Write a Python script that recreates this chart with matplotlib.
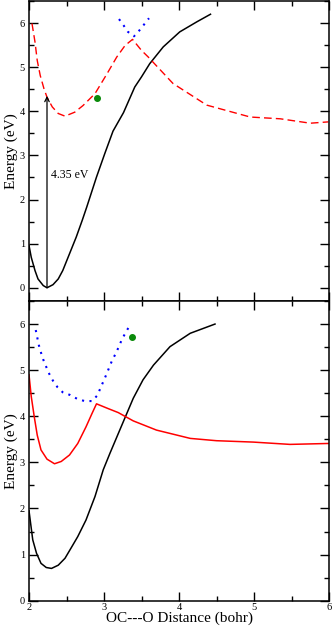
import numpy as np
import matplotlib
matplotlib.use("Agg")
import matplotlib.pyplot as plt
from matplotlib.ticker import MultipleLocator

plt.rcParams["font.family"] = ["Liberation Serif", "DejaVu Serif"]

# ============================================================
# Data
# ============================================================
# top panel
top_ground_x = [2.00, 2.03, 2.08, 2.12, 2.19, 2.24, 2.32, 2.39, 2.45, 2.54, 2.63, 2.71, 2.77,
                2.90, 3.01, 3.12, 3.26, 3.41, 3.50, 3.61, 3.79, 4.01, 4.24, 4.42]
top_ground_y = [0.96, 0.69, 0.39, 0.20, 0.05, 0.00, 0.07, 0.20, 0.39, 0.77, 1.15, 1.53, 1.83,
                2.51, 3.04, 3.55, 3.97, 4.55, 4.78, 5.08, 5.46, 5.80, 6.03, 6.20]

top_excited_x = [2.04, 2.08, 2.11, 2.15, 2.20, 2.24, 2.31, 2.39, 2.48, 2.61, 2.72, 2.88, 3.04,
                 3.17, 3.28, 3.38, 3.50, 3.59, 3.92, 4.37, 4.95, 5.35, 5.75, 5.99]
top_excited_y = [5.99, 5.57, 5.15, 4.81, 4.51, 4.32, 4.10, 3.95, 3.89, 3.98, 4.13, 4.40, 4.85,
                 5.23, 5.49, 5.63, 5.38, 5.23, 4.63, 4.14, 3.87, 3.83, 3.73, 3.76]

top_dot_x = [3.20, 3.26, 3.32, 3.40, 3.47, 3.54, 3.60]
top_dot_y = [6.09, 5.95, 5.80, 5.70, 5.83, 5.98, 6.11]

top_point = (2.91, 4.31)
vert_x = 2.24
vert_e = 4.35

# bottom panel
bot_ground_x = [2.00, 2.05, 2.10, 2.16, 2.23, 2.30, 2.39, 2.48, 2.56, 2.65, 2.76, 2.88, 2.99,
                3.08, 3.21, 3.39, 3.52, 3.66, 3.88, 4.15, 4.48]
bot_ground_y = [1.95, 1.32, 1.03, 0.81, 0.72, 0.70, 0.77, 0.92, 1.14, 1.39, 1.75, 2.26, 2.84,
                3.20, 3.70, 4.39, 4.79, 5.11, 5.51, 5.80, 6.00]

bot_excited_x = [2.00, 2.03, 2.07, 2.11, 2.16, 2.24, 2.34, 2.43, 2.54, 2.65, 2.76, 2.84, 2.90,
                 3.05, 3.19, 3.39, 3.70, 4.15, 4.50, 4.99, 5.48, 5.99]
bot_excited_y = [4.90, 4.43, 3.99, 3.59, 3.27, 3.07, 2.97, 3.02, 3.16, 3.41, 3.77, 4.06, 4.27,
                 4.17, 4.08, 3.90, 3.70, 3.52, 3.47, 3.44, 3.39, 3.41]

bot_dot_x = [2.09, 2.11, 2.13, 2.16, 2.19, 2.23, 2.27, 2.32, 2.38, 2.45, 2.55, 2.64, 2.74, 2.84,
             2.91, 2.95, 2.99, 3.03, 3.07, 3.11, 3.16, 3.20, 3.24, 3.29, 3.34]
bot_dot_y = [5.87, 5.71, 5.55, 5.38, 5.23, 5.07, 4.92, 4.77, 4.63, 4.52, 4.46, 4.38, 4.33, 4.33,
             4.45, 4.60, 4.75, 4.90, 5.06, 5.22, 5.37, 5.52, 5.67, 5.82, 5.96]

bot_point = (3.37, 5.71)

# ============================================================
# Figure
# ============================================================
W, H = 332, 632
fig = plt.figure(figsize=(W / 100, H / 100), dpi=100)
ax_top = fig.add_axes([29 / W, (H - 301) / H, 300 / W, 300 / H])
ax_bot = fig.add_axes([29 / W, (H - 600.7) / H, 300 / W, 299.7 / H])


def style_axis(ax):
    ax.set_xlim(2, 6)
    ax.xaxis.set_major_locator(MultipleLocator(1))
    ax.xaxis.set_minor_locator(MultipleLocator(0.5))
    ax.yaxis.set_major_locator(MultipleLocator(1))
    ax.yaxis.set_minor_locator(MultipleLocator(0.5))
    ax.tick_params(which="both", direction="in", top=True, right=True, width=1.0, labelsize=7.5)
    ax.tick_params(which="major", length=6.5)
    ax.tick_params(which="minor", length=3.5)
    ax.tick_params(axis="x", pad=1.5)
    ax.tick_params(axis="y", pad=3)
    for sp in ax.spines.values():
        sp.set_linewidth(1.1)
    ax.set_ylabel("Energy (eV)", fontsize=11, labelpad=1)


dash = (0, (5.5, 3))
dots = (0, (1, 2.6))

# ---- top panel ----
ax = ax_top
ax.plot(top_ground_x, top_ground_y, color="black", lw=1.1)
ax.plot(top_excited_x, top_excited_y, color="red", lw=1.0, linestyle=dash)
ax.plot(top_dot_x, top_dot_y, color="blue", lw=1.5, linestyle=dots, dash_capstyle="butt")
ax.plot(*top_point, "o", color="#0a8a0a", ms=4)
ax.annotate("", xy=(vert_x, vert_e), xytext=(vert_x, 0),
            arrowprops=dict(arrowstyle="->", lw=0.9, color="black", shrinkA=0, shrinkB=0,
                            mutation_scale=8))
ax.text(vert_x + 0.05, 2.55, f"{vert_e:.2f} eV", fontsize=8.5, ha="left", va="center")
style_axis(ax)
ax.set_ylim(-0.3, 6.5)
ax.tick_params(axis="x", labelbottom=False)

# ---- bottom panel ----
ax = ax_bot
ax.plot(bot_ground_x, bot_ground_y, color="black", lw=1.1)
ax.plot(bot_excited_x, bot_excited_y, color="red", lw=1.1)
ax.plot(bot_dot_x, bot_dot_y, color="blue", lw=1.5, linestyle=dots, dash_capstyle="butt")
ax.plot(*bot_point, "o", color="#0a8a0a", ms=4)
style_axis(ax)
ax.set_ylim(0, 6.5)
ax.set_xlabel("OC---O Distance (bohr)", fontsize=11, labelpad=0)

fig.savefig("out.png", dpi=100)
